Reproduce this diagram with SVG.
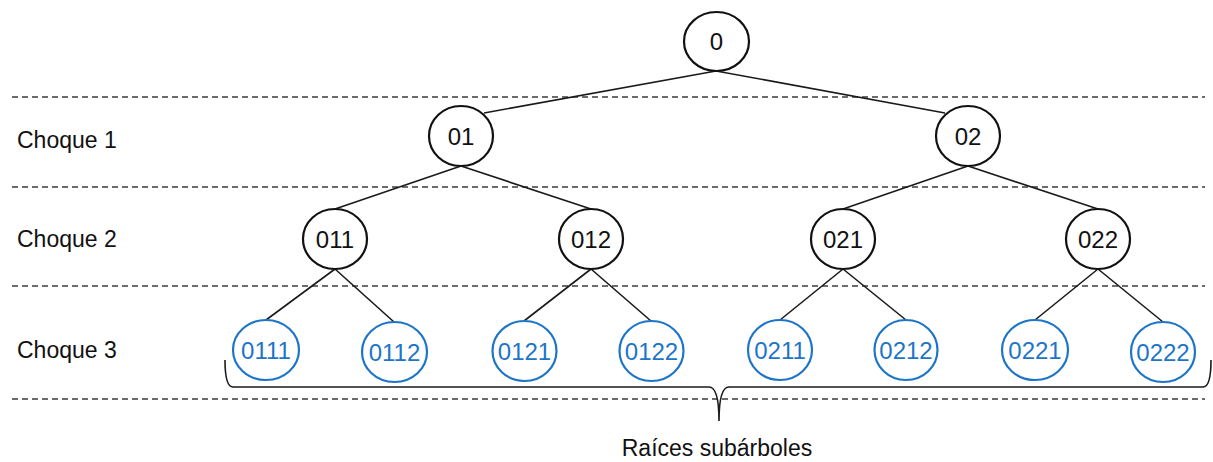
<svg xmlns="http://www.w3.org/2000/svg" width="1213" height="462" viewBox="0 0 1213 462">
  <style>
    .sep { stroke: #3c3c3c; stroke-width: 1.6; stroke-dasharray: 6 4; fill: none; }
    .edge { stroke: #1a1a1a; stroke-width: 1.6; fill: none; }
    .node ellipse { fill: #ffffff; stroke: #111111; stroke-width: 2.2; }
    .node text { font-family: "Liberation Sans", Arial, sans-serif; font-size: 24px; fill: #111111; text-anchor: middle; }
    .leaf ellipse { stroke: #1c75c8; }
    .leaf text { fill: #1c75c8; }
    .lbl { font-family: "Liberation Sans", Arial, sans-serif; font-size: 23px; fill: #111111; }
    .brace { stroke: #1a1a1a; stroke-width: 1.6; fill: none; }
  </style>

  <rect width="1213" height="462" fill="#ffffff"/>

  <!-- level separators -->
  <g id="separators">
    <line class="sep" x1="12" y1="97" x2="1205" y2="97"/>
    <line class="sep" x1="12" y1="187" x2="1205" y2="187"/>
    <line class="sep" x1="12" y1="286" x2="1205" y2="286"/>
    <line class="sep" x1="12" y1="399" x2="1205" y2="399"/>
  </g>

  <!-- row labels -->
  <g id="labels">
    <text class="lbl" x="17" y="148">Choque 1</text>
    <text class="lbl" x="17" y="247">Choque 2</text>
    <text class="lbl" x="17" y="358">Choque 3</text>
    <text class="lbl" x="717" y="456" text-anchor="middle">Raíces subárboles</text>
  </g>

  <!-- tree edges -->
  <g id="connectors">
    <line class="edge" x1="716" y1="71" x2="484" y2="113"/>
    <line class="edge" x1="716" y1="71" x2="945" y2="113"/>
    <line class="edge" x1="461" y1="166" x2="335" y2="209"/>
    <line class="edge" x1="461" y1="166" x2="591" y2="209"/>
    <line class="edge" x1="968" y1="166" x2="843" y2="209"/>
    <line class="edge" x1="968" y1="166" x2="1098" y2="209"/>
    <line class="edge" x1="335" y1="269" x2="266" y2="320"/>
    <line class="edge" x1="335" y1="269" x2="394" y2="322"/>
    <line class="edge" x1="591" y1="269" x2="524" y2="321"/>
    <line class="edge" x1="591" y1="269" x2="651" y2="321"/>
    <line class="edge" x1="843" y1="269" x2="780" y2="320"/>
    <line class="edge" x1="843" y1="269" x2="906" y2="320"/>
    <line class="edge" x1="1098" y1="269" x2="1035" y2="320"/>
    <line class="edge" x1="1098" y1="269" x2="1163" y2="322"/>
  </g>

  <!-- brace under the leaves -->
  <path id="brace" class="brace" d="M225,360 Q225,387 233,387 L709,387 Q719,387 719,421 Q719,387 729,387 L1203,387 Q1211,387 1211,360"/>

  <!-- nodes -->
  <g id="n0" class="node"><ellipse cx="716.5" cy="41.5" rx="32.5" ry="29.5"/><text x="716.5" y="50">0</text></g>

  <g id="n01" class="node"><ellipse cx="461" cy="136" rx="32" ry="30"/><text x="461" y="145">01</text></g>
  <g id="n02" class="node"><ellipse cx="968" cy="136" rx="32" ry="30"/><text x="968" y="145">02</text></g>

  <g id="n011" class="node"><ellipse cx="335" cy="239" rx="32" ry="30"/><text x="335" y="248">011</text></g>
  <g id="n012" class="node"><ellipse cx="591" cy="239" rx="32" ry="30"/><text x="591" y="248">012</text></g>
  <g id="n021" class="node"><ellipse cx="843" cy="239" rx="32" ry="30"/><text x="843" y="248">021</text></g>
  <g id="n022" class="node"><ellipse cx="1098" cy="239" rx="32" ry="30"/><text x="1098" y="248">022</text></g>

  <g id="n0111" class="node leaf"><ellipse cx="266" cy="350" rx="33" ry="30"/><text x="266" y="359">0111</text></g>
  <g id="n0112" class="node leaf"><ellipse cx="394.5" cy="352" rx="32.5" ry="30"/><text x="394.5" y="361">0112</text></g>
  <g id="n0121" class="node leaf"><ellipse cx="524.5" cy="351" rx="32" ry="30"/><text x="524.5" y="360">0121</text></g>
  <g id="n0122" class="node leaf"><ellipse cx="651.5" cy="351" rx="32" ry="30"/><text x="651.5" y="360">0122</text></g>
  <g id="n0211" class="node leaf"><ellipse cx="780" cy="350" rx="32" ry="30"/><text x="780" y="359">0211</text></g>
  <g id="n0212" class="node leaf"><ellipse cx="906" cy="350" rx="31.5" ry="30"/><text x="906" y="359">0212</text></g>
  <g id="n0221" class="node leaf"><ellipse cx="1035" cy="350" rx="33" ry="30"/><text x="1035" y="359">0221</text></g>
  <g id="n0222" class="node leaf"><ellipse cx="1163" cy="352" rx="32" ry="30"/><text x="1163" y="361">0222</text></g>
</svg>
